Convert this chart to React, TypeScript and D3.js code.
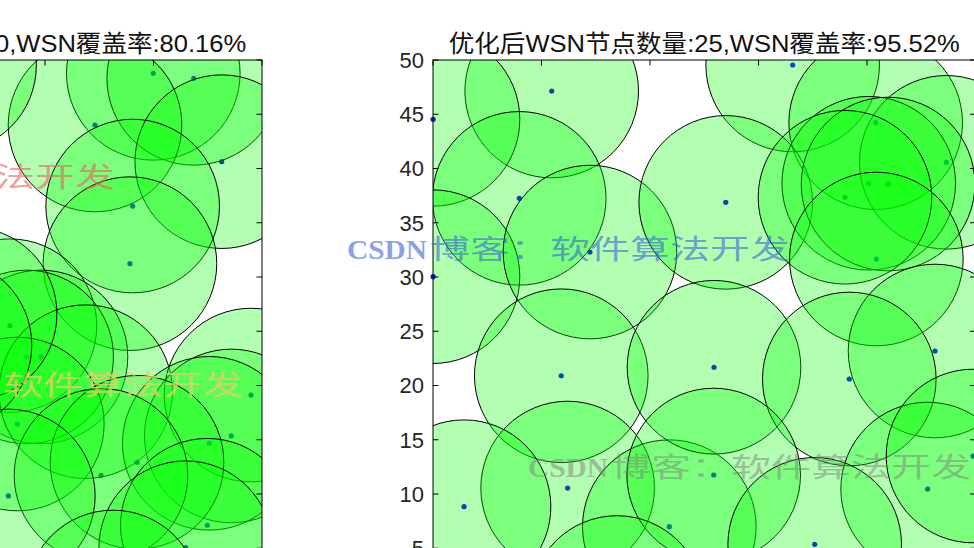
import React from 'react';
import * as d3 from 'd3';

// ---------- data ----------
const leftTitle = '优化前WSN节点数量:30,WSN覆盖率:80.16%';
const rightTitle = '优化后WSN节点数量:25,WSN覆盖率:95.52%';
const watermarkLatin = 'CSDN';
const watermarkCjk = '博客：软件算法开发';
const sensingRadius = 8;
const yTicks = [5, 10, 15, 20, 25, 30, 35, 40, 45, 50];
const xTicks = [0, 10, 20, 30, 40, 50];

// before optimisation (visible part)
const leftNodeX = [39.98, 43.71, 34.61, 46.29, 38.08, 37.83, 26.77, 29.63, 28.31, 33.75, 48.99, 27.45, 47.17, 45.14, 38.48, 35.16, 26.62, 44.96, 42.97, 21.2, 23.1, 20.78, 36.27];
const leftNodeY = [48.77, 48.31, 44.01, 40.63, 36.54, 31.23, 25.51, 22.63, 22.63, 19.43, 19.12, 16.45, 15.35, 14.67, 12.92, 11.72, 9.82, 7.12, 5.05, 49.5, 26.6, 23.73, 0.51];

// after optimisation
const rightNodeX = [10.94, 0.0, 7.95, 0.0, 14.47, 11.82, 12.41, 2.86, 21.78, 33.15, 40.8, 47.31, 26.98, 40.16, 41.94, 37.97, 40.86, 46.27, 25.9, 38.37, 25.87, 45.59, 35.18, 49.77, 16.96];
const rightNodeY = [47.14, 44.53, 37.25, 30.03, 32.3, 20.9, 10.55, 8.83, 6.99, 49.54, 44.22, 40.57, 36.88, 38.64, 38.57, 37.35, 31.66, 23.18, 21.68, 20.6, 11.75, 10.46, 5.36, 13.5, 0.0];

const W = 974;
const H = 548;
const TOP = 60;
const BOTTOM = 602.5;
const TICK = 5.5;
const sansFont = "'Liberation Sans', Arial, 'Noto Sans CJK SC', sans-serif";
const wmFont = "'Liberation Serif', 'DejaVu Serif', 'Noto Sans CJK SC', serif";

type PanelProps = {
  id: string;
  x: d3.ScaleLinear<number, number>;
  nx: number[];
  ny: number[];
  title: string;
  showYLabels: boolean;
};

const yScale = d3.scaleLinear().domain([0, 50]).range([BOTTOM, TOP]);

function Panel({ id, x, nx, ny, title, showYLabels }: PanelProps) {
  const [x0, x1] = x.range();
  const r = x(sensingRadius) - x(0);
  const cx = (x0 + x1) / 2;
  return (
    <g>
      <defs>
        <clipPath id={id}>
          <rect x={x0} y={TOP} width={x1 - x0} height={BOTTOM - TOP} />
        </clipPath>
      </defs>
      <g clipPath={`url(#${id})`}>
        {nx.map((v, i) => (
          <circle key={'n' + i} cx={x(v)} cy={yScale(ny[i])} r={2.6} fill="#0000ff" />
        ))}
        {nx.map((v, i) => (
          <circle
            key={'c' + i}
            cx={x(v)}
            cy={yScale(ny[i])}
            r={r}
            fill="#00ff00"
            fillOpacity={0.3}
            stroke="#000"
            strokeWidth={1}
          />
        ))}
      </g>
      {/* nodes on the axis edge stick out of the box */}
      {nx.map((v, i) =>
        v <= 0.2 ? (
          <circle key={'e' + i} cx={x(v)} cy={yScale(ny[i])} r={2.6} fill="#0a2fd0" />
        ) : null
      )}
      <rect x={x0} y={TOP} width={x1 - x0} height={BOTTOM - TOP} fill="none" stroke="#000" strokeWidth={1} />
      {yTicks.map((t) => (
        <g key={'yt' + t}>
          <line x1={x0} x2={x0 + TICK} y1={yScale(t)} y2={yScale(t)} stroke="#000" />
          <line x1={x1 - TICK} x2={x1} y1={yScale(t)} y2={yScale(t)} stroke="#000" />
          {showYLabels && (
            <text x={x0 - 9} y={yScale(t)} dy="0.36em" textAnchor="end" fontSize={22} fill="#262626" fontFamily={sansFont}>
              {t}
            </text>
          )}
        </g>
      ))}
      {xTicks.map((t) => (
        <g key={'xt' + t}>
          <line x1={x(t)} x2={x(t)} y1={TOP} y2={TOP + TICK} stroke="#000" />
          <line x1={x(t)} x2={x(t)} y1={BOTTOM - TICK} y2={BOTTOM} stroke="#000" />
        </g>
      ))}
      <text
        x={cx}
        y={52}
        textAnchor="middle"
        fontSize={24}
        fill="#111"
        fontFamily={sansFont}
        textLength={511}
        lengthAdjust="spacingAndGlyphs"
      >
        {title}
      </text>
    </g>
  );
}

function Watermark({ x, y, color, opacity }: { x: number; y: number; color: string; opacity: number }) {
  return (
    <g fill={color} fillOpacity={opacity} fontFamily={wmFont} fontSize={27}>
      <text x={x} y={y} fontWeight="bold" textLength={80} lengthAdjust="spacingAndGlyphs">
        {watermarkLatin}
      </text>
      <text x={x + 83} y={y} fontWeight="normal" textLength={360} lengthAdjust="spacingAndGlyphs">
        {watermarkCjk}
      </text>
    </g>
  );
}

export default function App() {
  const xLeft = d3.scaleLinear().domain([0, 50]).range([-280.5, 262]);
  const xRight = d3.scaleLinear().domain([0, 50]).range([433, 975.5]);
  return (
    <svg
      width={W}
      height={H}
      style={{ position: 'fixed', left: 0, top: 0, background: '#fff' }}
    >
      <rect x={0} y={0} width={W} height={H} fill="#fff" />
      <Panel id="clipL" x={xLeft} nx={leftNodeX} ny={leftNodeY} title={leftTitle} showYLabels={false} />
      <Panel id="clipR" x={xRight} nx={rightNodeX} ny={rightNodeY} title={rightTitle} showYLabels={true} />
      <Watermark x={-328} y={187} color="#e86060" opacity={0.6} />
      <Watermark x={-200} y={395} color="#e6cc6a" opacity={0.8} />
      <Watermark x={347} y={259} color="#3a64d8" opacity={0.6} />
      <Watermark x={528} y={477} color="#808080" opacity={0.5} />
    </svg>
  );
}
